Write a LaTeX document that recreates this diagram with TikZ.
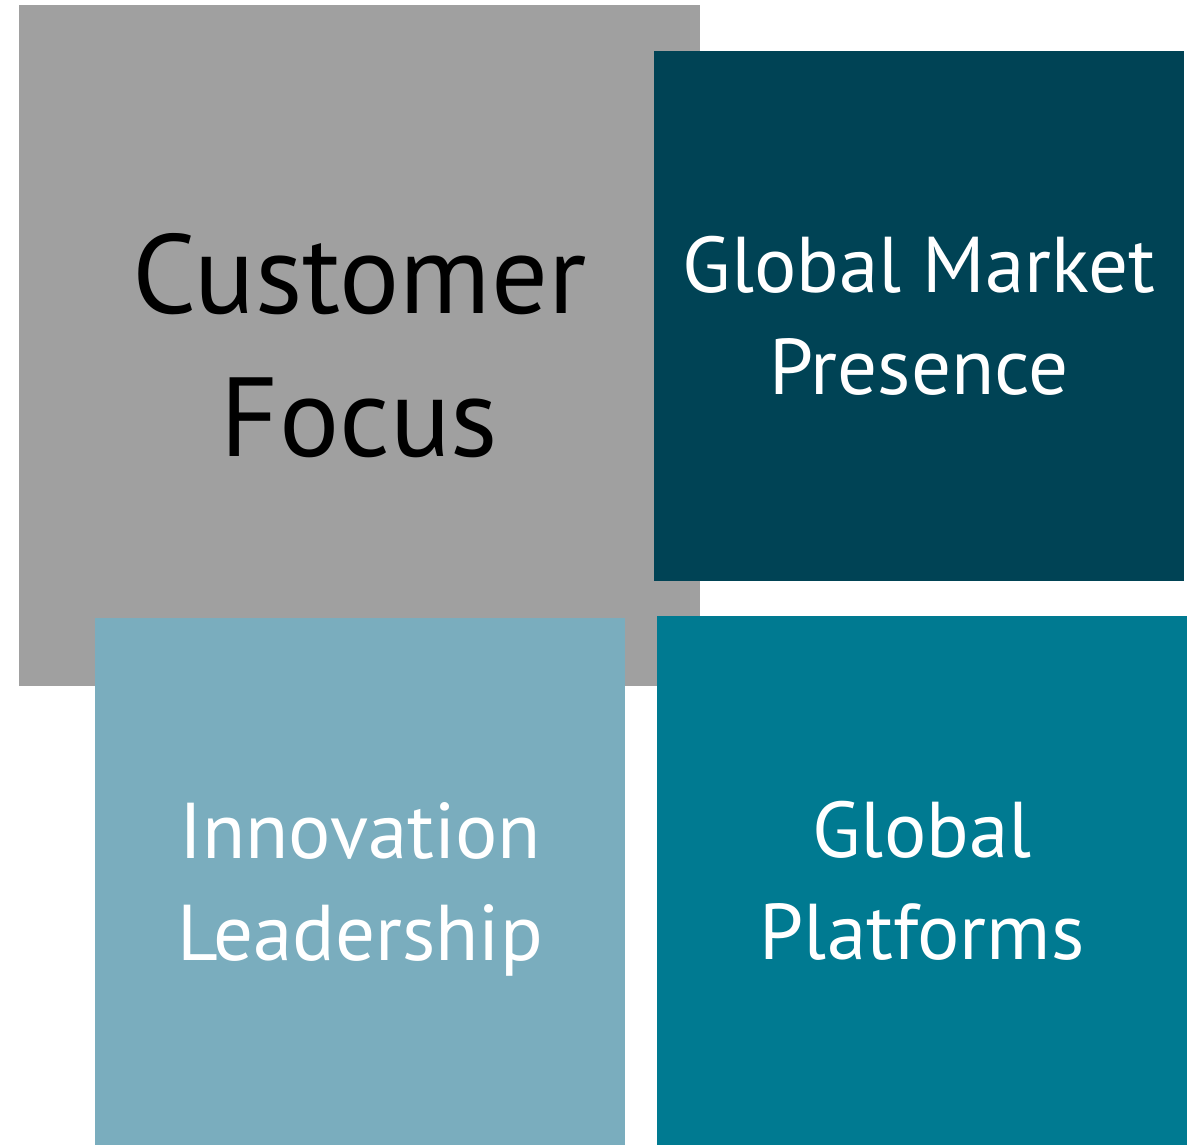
\documentclass[tikz,border=0pt]{standalone}
\usepackage{fontspec}
\setmainfont{PT Sans}
\usepackage{xcolor}
\definecolor{tilegrey}{HTML}{A0A0A0}
\definecolor{tiledeep}{HTML}{004355}
\definecolor{tilesky}{HTML}{7AADBE}
\definecolor{tileteal}{HTML}{007A91}
\tikzset{
    tilebox/.style={rectangle, inner sep=0pt, align=center, text=white},
    tilebig/.style={tilebox, font=\fontsize{64}{81}\selectfont},
    tilesmall/.style={tilebox, font=\fontsize{45}{58}\selectfont}
}
\begin{document}
\begin{tikzpicture}
    \useasboundingbox (0,0) rectangle (23.84,-22.9);
    \node[tilebig, fill=tilegrey, text=black, minimum width=13.62cm, minimum height=13.62cm] (cust) at (7.19,-6.91) {Customer\\Focus};
    \node[tilesmall, fill=tiledeep, minimum width=10.6cm, minimum height=10.6cm] (market) at (18.38,-6.32) {Global Market\\Presence};
    \node[tilesmall, fill=tilesky, minimum width=10.6cm, minimum height=10.54cm] (innov) at (7.2,-17.63) {\rule{0pt}{0.9em}Innovation\\Leadership};
    \node[tilesmall, fill=tileteal, minimum width=10.6cm, minimum height=10.58cm] (platf) at (18.44,-17.61) {Global\\Platforms};
\end{tikzpicture}
\end{document}
